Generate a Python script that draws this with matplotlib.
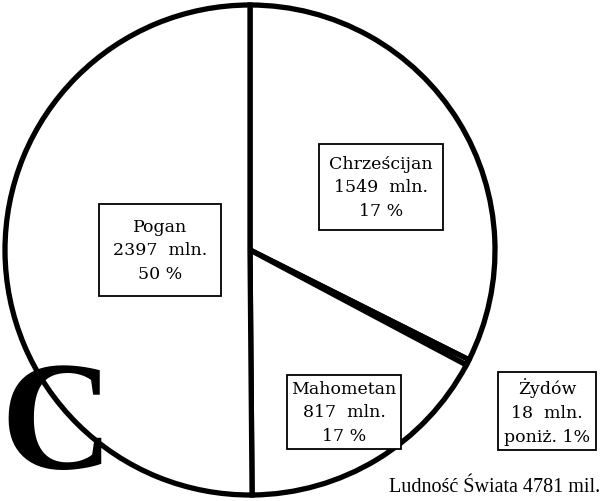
import matplotlib
matplotlib.use("Agg")
import matplotlib.pyplot as plt

# Data
categories = ["Chrześcijan", "Żydów", "Mahometan", "Pogan"]
values_mln = [1549, 18, 817, 2397]
pct_labels = ["17 %", "poniż. 1%", "17 %", "50 %"]
total_label = "Ludność Świata 4781 mil."
corner_letter = "C"

fig = plt.figure(figsize=(6.06, 5.02), dpi=100)
ax = fig.add_axes([0, 0, 1, 1])

wedges, _ = ax.pie(values_mln, startangle=90, counterclock=False,
                   center=(250, 251), radius=245, frame=True,
                   colors=["white"] * len(values_mln),
                   wedgeprops=dict(edgecolor="black", linewidth=3.8))
ax.set_xlim(0, 606)
ax.set_ylim(0, 502)
ax.set_aspect("equal")
ax.axis("off")

serif = ["DejaVu Serif", "Liberation Serif"]
label_pos = {"Chrześcijan": (381, 314), "Pogan": (160, 251),
             "Mahometan": (344, 89), "Żydów": (547, 90)}
label_pad = {"Chrześcijan": 0.6, "Pogan": 0.8, "Mahometan": 0.28, "Żydów": 0.32}
for cat, v, p in zip(categories, values_mln, pct_labels):
    x, y = label_pos[cat]
    ax.text(x, y, f"{cat}\n{v}  mln.\n{p}", ha="center", va="center",
            fontsize=12.5, family=serif, linespacing=1.52, zorder=5,
            bbox=dict(boxstyle=f"square,pad={label_pad[cat]}", fc="white",
                      ec="black", lw=1.3))

ax.text(600, 14, total_label, ha="right", va="center", fontsize=14.5,
        family=["Liberation Serif", "DejaVu Serif"])
ax.text(57, 1, corner_letter, ha="center", va="bottom", fontsize=112,
        family=["Liberation Serif", "DejaVu Serif"], fontweight="bold", zorder=6)

fig.savefig("out.png", dpi=100)
